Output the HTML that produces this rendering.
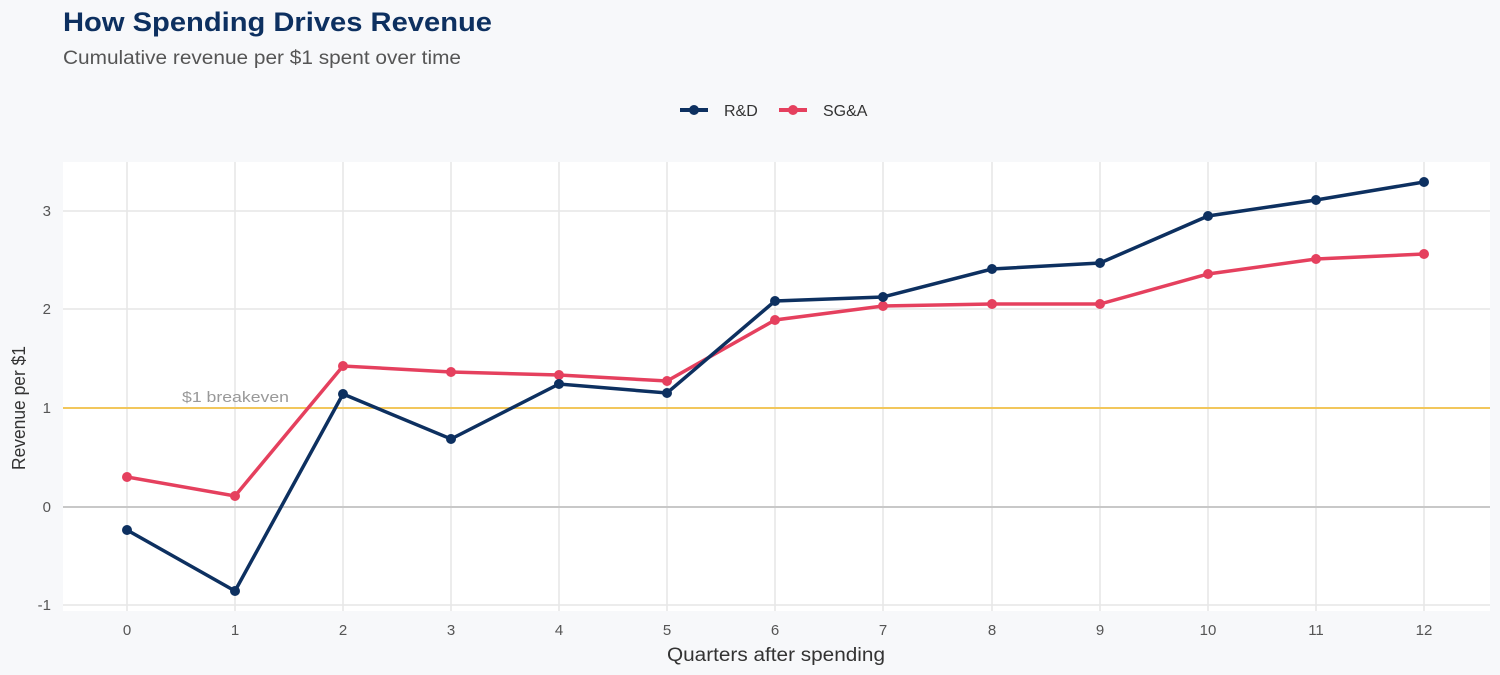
<!DOCTYPE html>
<html><head><meta charset="utf-8"><style>
html,body{margin:0;width:1500px;height:675px;overflow:hidden;background:#f7f8fa;font-family:"Liberation Sans",sans-serif;}
svg{display:block}
</style></head><body>
<svg width="1500" height="675" xmlns="http://www.w3.org/2000/svg" font-family="Liberation Sans, sans-serif">
<rect width="1500" height="675" fill="#f7f8fa"/>
<text x="63" y="31" font-size="27" font-weight="bold" fill="#0d3060" textLength="429" lengthAdjust="spacingAndGlyphs">How Spending Drives Revenue</text>
<text x="63" y="64" font-size="19" fill="#555" textLength="398" lengthAdjust="spacingAndGlyphs">Cumulative revenue per $1 spent over time</text>
<line x1="680" y1="110" x2="708" y2="110" stroke="#0d3060" stroke-width="4"/><circle cx="694" cy="110" r="5" fill="#0d3060"/>
<text x="724" y="116" font-size="16" fill="#333">R&amp;D</text>
<line x1="779" y1="110" x2="807" y2="110" stroke="#e5405e" stroke-width="4"/><circle cx="793" cy="110" r="5" fill="#e5405e"/>
<text x="823" y="116" font-size="16" fill="#333">SG&amp;A</text>
<rect x="63" y="162" width="1427" height="449" fill="#fff"/>
<g stroke="#e6e6e6" stroke-width="1.5">
<line x1="63" x2="1490" y1="211" y2="211"/><line x1="63" x2="1490" y1="309" y2="309"/><line x1="63" x2="1490" y1="605" y2="605"/>
<line x1="127" x2="127" y1="162" y2="611"/><line x1="235" x2="235" y1="162" y2="611"/><line x1="343" x2="343" y1="162" y2="611"/><line x1="451" x2="451" y1="162" y2="611"/><line x1="559" x2="559" y1="162" y2="611"/><line x1="667" x2="667" y1="162" y2="611"/><line x1="775" x2="775" y1="162" y2="611"/><line x1="883" x2="883" y1="162" y2="611"/><line x1="992" x2="992" y1="162" y2="611"/><line x1="1100" x2="1100" y1="162" y2="611"/><line x1="1208" x2="1208" y1="162" y2="611"/><line x1="1316" x2="1316" y1="162" y2="611"/><line x1="1424" x2="1424" y1="162" y2="611"/>
</g>
<line x1="63" x2="1490" y1="507" y2="507" stroke="#c8c8c8" stroke-width="2"/>
<line x1="63" x2="1490" y1="408" y2="408" stroke="#f2c75c" stroke-width="2"/>
<text x="182" y="402" font-size="15" fill="#999" textLength="107" lengthAdjust="spacingAndGlyphs">$1 breakeven</text>
<g font-size="15" fill="#555" text-anchor="end">
<text x="51" y="216">3</text><text x="51" y="314">2</text><text x="51" y="413">1</text><text x="51" y="512">0</text><text x="51" y="610">-1</text></g>
<g font-size="15" fill="#555" text-anchor="middle">
<text x="127" y="635">0</text><text x="235" y="635">1</text><text x="343" y="635">2</text><text x="451" y="635">3</text><text x="559" y="635">4</text><text x="667" y="635">5</text><text x="775" y="635">6</text><text x="883" y="635">7</text><text x="992" y="635">8</text><text x="1100" y="635">9</text><text x="1208" y="635">10</text><text x="1316" y="635">11</text><text x="1424" y="635">12</text></g>
<text x="776" y="661" font-size="19" fill="#333" text-anchor="middle" textLength="218" lengthAdjust="spacingAndGlyphs">Quarters after spending</text>
<text transform="translate(25,408) rotate(-90)" font-size="18" fill="#333" text-anchor="middle" textLength="124" lengthAdjust="spacingAndGlyphs">Revenue per $1</text>
<polyline fill="none" stroke="#e5405e" stroke-width="3.5" points="127,477 235,496 343,366 451,372 559,375 667,381 775,320 883,306 992,304 1100,304 1208,274 1316,259 1424,254"/>
<polyline fill="none" stroke="#0d3060" stroke-width="3.5" points="127,530 235,591 343,394 451,439 559,384 667,393 775,301 883,297 992,269 1100,263 1208,216 1316,200 1424,182"/>
<g fill="#e5405e"><circle cx="127" cy="477" r="5"/><circle cx="235" cy="496" r="5"/><circle cx="343" cy="366" r="5"/><circle cx="451" cy="372" r="5"/><circle cx="559" cy="375" r="5"/><circle cx="667" cy="381" r="5"/><circle cx="775" cy="320" r="5"/><circle cx="883" cy="306" r="5"/><circle cx="992" cy="304" r="5"/><circle cx="1100" cy="304" r="5"/><circle cx="1208" cy="274" r="5"/><circle cx="1316" cy="259" r="5"/><circle cx="1424" cy="254" r="5"/></g>
<g fill="#0d3060"><circle cx="127" cy="530" r="5"/><circle cx="235" cy="591" r="5"/><circle cx="343" cy="394" r="5"/><circle cx="451" cy="439" r="5"/><circle cx="559" cy="384" r="5"/><circle cx="667" cy="393" r="5"/><circle cx="775" cy="301" r="5"/><circle cx="883" cy="297" r="5"/><circle cx="992" cy="269" r="5"/><circle cx="1100" cy="263" r="5"/><circle cx="1208" cy="216" r="5"/><circle cx="1316" cy="200" r="5"/><circle cx="1424" cy="182" r="5"/></g>
</svg>
</body></html>
